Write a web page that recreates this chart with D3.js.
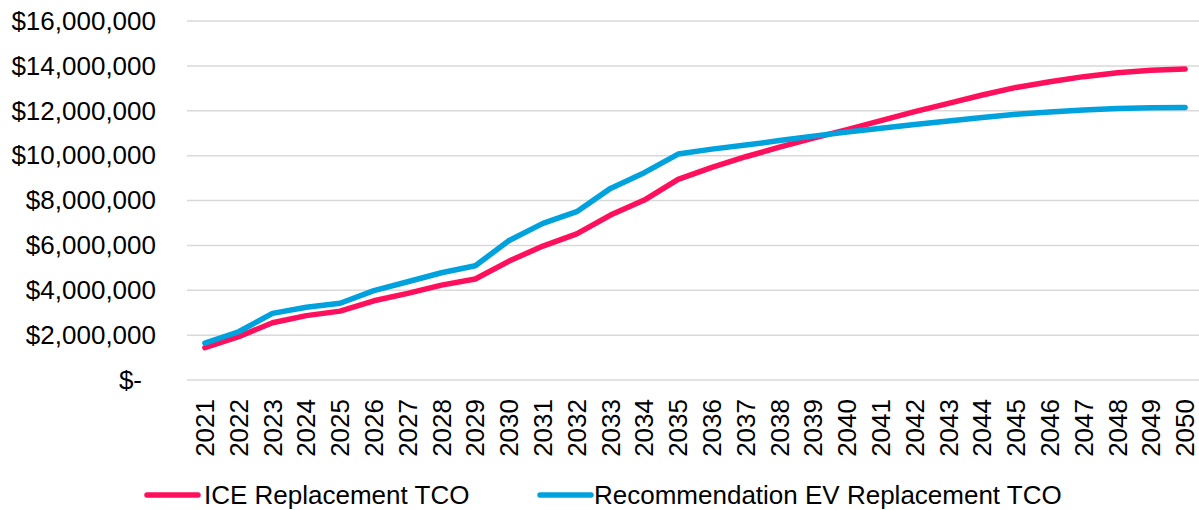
<!DOCTYPE html>
<html><head><meta charset="utf-8">
<script src="https://cdn.jsdelivr.net/npm/d3@7"></script>
<style>
body{margin:0;background:#fff;}
text{font-family:Arial,"Liberation Sans",sans-serif;}
</style></head>
<body>
<svg id="c" width="1199" height="510"></svg>
<script>
const years = d3.range(2021, 2051).map(String);
const iceTCO = [1.44,1.93,2.55,2.87,3.07,3.53,3.86,4.23,4.50,5.30,5.97,6.51,7.35,8.02,8.94,9.48,9.95,10.38,10.78,11.16,11.56,11.96,12.33,12.70,13.04,13.29,13.52,13.69,13.81,13.86].map(v=>v*1e6);
const evTCO = [1.64,2.15,2.97,3.24,3.42,3.98,4.38,4.78,5.09,6.22,6.98,7.50,8.54,9.24,10.07,10.29,10.47,10.67,10.87,11.05,11.22,11.39,11.54,11.70,11.84,11.94,12.03,12.10,12.13,12.15].map(v=>v*1e6);
const yTicks = [0,2e6,4e6,6e6,8e6,10e6,12e6,14e6,16e6];
const seriesNames = ["ICE Replacement TCO","Recommendation EV Replacement TCO"];
const colors = ["#FF0F5C","#00A2DE"];

const svg = d3.select("#c");
const x = d3.scaleBand().domain(years).range([188,1202]);
const y = d3.scaleLinear().domain([0,16e6]).range([380,21]);
const cx = d => x(d) + x.bandwidth()/2;

// gridlines
svg.append("g").selectAll("line").data(yTicks).join("line")
  .attr("x1",187).attr("x2",1199)
  .attr("y1",d=>y(d)).attr("y2",d=>y(d))
  .attr("stroke","#D9D9D9").attr("stroke-width",1.5);

// y axis
const fmt = d3.format(",");
const yAx = svg.append("g").attr("transform","translate(156,0)")
  .call(d3.axisLeft(y).tickValues(yTicks).tickSize(0).tickPadding(0)
    .tickFormat(d => d===0 ? "$-" : "$"+fmt(d)));
yAx.select(".domain").remove();
yAx.selectAll("text").attr("font-size",26).attr("fill","#000")
  .attr("font-family","Arial, 'Liberation Sans', sans-serif")
  .attr("dx", d => d===0 ? -14 : 0);

// x axis
const xAx = svg.append("g").attr("transform","translate(0,380)")
  .call(d3.axisBottom(x).tickSize(0));
xAx.select(".domain").remove();
xAx.selectAll("text").attr("font-size",26).attr("fill","#000")
  .attr("font-family","Arial, 'Liberation Sans', sans-serif")
  .attr("text-anchor","end")
  .attr("transform","rotate(-90)")
  .attr("x",-19).attr("y",0).attr("dy","0.35em");

// lines
const line = d3.line().x((d,i)=>cx(years[i])).y(d=>y(d));
[iceTCO, evTCO].forEach((s,i)=>{
  svg.append("path").datum(s).attr("d",line)
    .attr("fill","none").attr("stroke",colors[i]).attr("stroke-width",5.5)
    .attr("stroke-linejoin","round").attr("stroke-linecap","round");
});

// legend
const leg = [{x:147,tx:204},{x:540,tx:594}];
seriesNames.forEach((n,i)=>{
  svg.append("line").attr("x1",leg[i].x).attr("x2",leg[i].x+51)
    .attr("y1",495).attr("y2",495).attr("stroke",colors[i])
    .attr("stroke-width",5.5).attr("stroke-linecap","round");
  svg.append("text").attr("x",leg[i].tx).attr("y",495).attr("dy","0.35em")
    .attr("font-size",26).attr("fill","#000").text(n);
});
</script>
</body></html>
